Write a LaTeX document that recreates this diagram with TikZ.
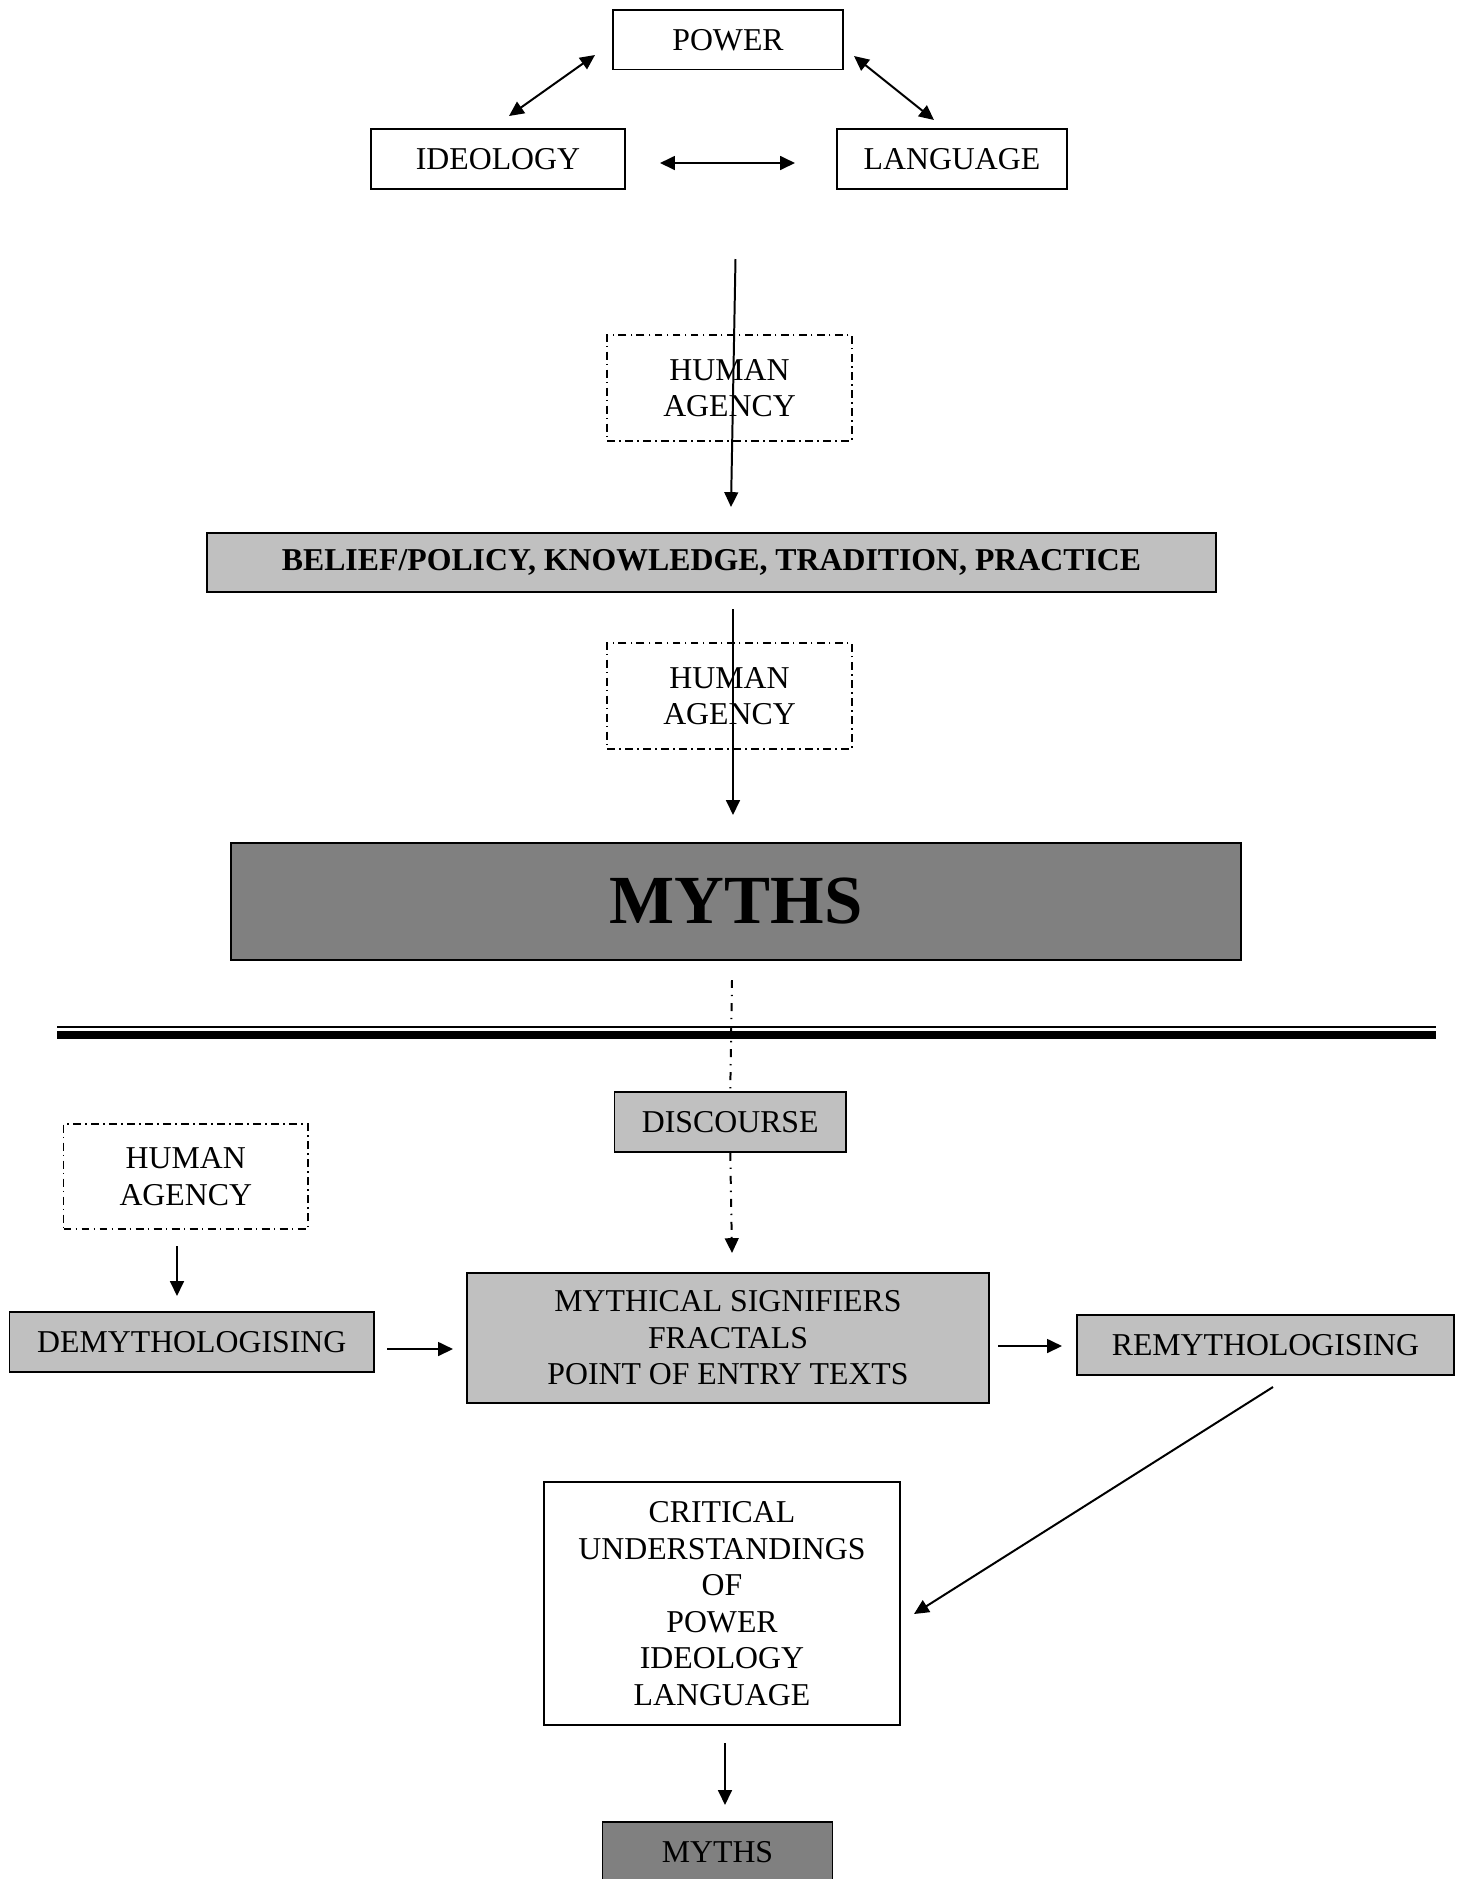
\documentclass[tikz,border=0pt]{standalone}
\usepackage{fontspec}
\setmainfont{Liberation Serif}
\usetikzlibrary{arrows.meta}
\definecolor{lightgrey}{HTML}{C0C0C0}
\definecolor{midgrey}{HTML}{808080}
\begin{document}
\begin{tikzpicture}[x=0.3774pt,y=-0.3774pt,
  font=\fontsize{12}{13.8}\selectfont,
  corners/.style n args={4}{at={({(#1+#3)/2},{(#2+#4)/2})},
    minimum width={(#3-#1)*0.3774pt}, minimum height={(#4-#2)*0.3774pt}},
  box/.style={draw, line width=0.6pt, inner sep=0pt, align=center},
  plainbox/.style={box, fill=white},
  greybox/.style={box, fill=lightgrey},
  darkbox/.style={box, fill=midgrey},
  agencybox/.style={box, fill=white, dash pattern=on 3pt off 1.6pt on 0.6pt off 1.6pt},
  tip/.tip={Triangle[length=5.6pt,width=5.2pt]},
  link/.style={line width=0.75pt, -tip},
  twoway/.style={line width=0.75pt, tip-tip},
  dotline/.style={line width=0.75pt, dash pattern=on 3pt off 2.6pt on 0.5pt off 2.6pt},
  dotlink/.style={dotline, -tip}
]
\path[use as bounding box, clip] (0,0) rectangle (1459,1879);

% upper triangle of concepts
\node[plainbox, corners={613}{10}{843}{69.5}] (power) {POWER};
\node[plainbox, corners={371}{129}{625}{189}] (ideology) {IDEOLOGY};
\node[plainbox, corners={837}{129}{1067}{189}] (language) {LANGUAGE};

\node[agencybox, corners={607}{335}{852}{441}] (agencyA) {HUMAN\\AGENCY};
\node[greybox, corners={207}{533}{1216}{592}, font=\fontsize{12}{13.8}\selectfont\bfseries] (belief)
  {BELIEF/POLICY, KNOWLEDGE, TRADITION, PRACTICE};
\node[agencybox, corners={607}{643}{852}{749}] (agencyB) {HUMAN\\AGENCY};
\node[darkbox, corners={231}{843}{1241}{960}, font=\fontsize{26}{30}\selectfont\bfseries] (myths) {MYTHS};

% double rule
\draw[line width=0.75pt] (57.3,1027) -- (1436,1027);
\draw[line width=2.9pt] (57.3,1034.9) -- (1436,1034.9);

% lower part
\node[greybox, corners={614.5}{1092}{846}{1152}] (discourse) {DISCOURSE};
\node[agencybox, corners={63.5}{1124}{308}{1229}] (agencyC) {HUMAN\\AGENCY};
\node[greybox, corners={9.6}{1312}{374}{1372}] (demyth) {DEMYTHOLOGISING};
\node[greybox, corners={467}{1273}{989}{1403}] (signifiers)
  {MYTHICAL SIGNIFIERS\\FRACTALS\\POINT OF ENTRY TEXTS};
\node[greybox, corners={1077}{1315}{1454}{1375}] (remyth) {REMYTHOLOGISING};
\node[plainbox, corners={544}{1482}{900}{1725}] (critical)
  {CRITICAL\\UNDERSTANDINGS\\OF\\POWER\\IDEOLOGY\\LANGUAGE};
\node[darkbox, corners={602.5}{1822}{832.5}{1882}] (mythsB) {MYTHS};

% connector end points
\coordinate (ipA) at (509,116);  \coordinate (ipB) at (595,55);
\coordinate (plA) at (854,56);   \coordinate (plB) at (934,120);
\coordinate (ilA) at (660,163);  \coordinate (ilB) at (795,163);
\coordinate (downA) at (735.5,259); \coordinate (downB) at (731,507);
\coordinate (downC) at (733,609);   \coordinate (downD) at (733,815);
\coordinate (mdA) at (732,980);
\coordinate (dsB) at (732,1253);
\coordinate (agA) at (177,1246); \coordinate (agB) at (177,1296);
\coordinate (dmA) at (387,1349); \coordinate (dmB) at (453,1349);
\coordinate (rmA) at (998,1346); \coordinate (rmB) at (1062,1346);
\coordinate (crA) at (1273,1387); \coordinate (crB) at (914,1614);
\coordinate (myA) at (725,1743); \coordinate (myB) at (725,1805);

% connectors
\draw[twoway] (ipA) -- (ipB);
\draw[twoway] (plA) -- (plB);
\draw[twoway] (ilA) -- (ilB);
\draw[link] (downA) -- (downB);
\draw[link] (downC) -- (downD);
\draw[dotline] (mdA) -- (discourse.north);
\draw[dotlink] (discourse.south) -- (dsB);
\draw[link] (agA) -- (agB);
\draw[link] (dmA) -- (dmB);
\draw[link] (rmA) -- (rmB);
\draw[link] (crA) -- (crB);
\draw[link] (myA) -- (myB);
\end{tikzpicture}
\end{document}
